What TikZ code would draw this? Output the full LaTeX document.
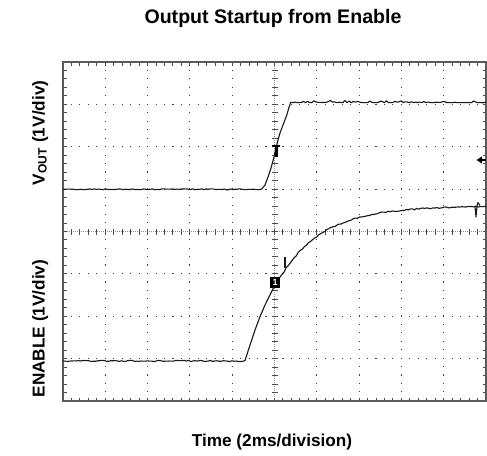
\documentclass[tikz,border=0pt]{standalone}
\usepackage{fontspec}
\setmainfont{Liberation Sans}
\begin{document}
\begin{tikzpicture}[x=0.5pt,y=-0.5pt,
  frame/.style={draw=black!65, line width=0.65pt},
  tickmark/.style={draw=black!70, line width=0.5pt},
  gridline/.style={draw=black!75, line width=0.55pt, dash pattern=on 0.55pt off 3.68pt, dash phase=0.275pt},
  axisline/.style={draw=black!45, line width=0.5pt, dash pattern=on 0.5pt off 0.5pt},
  trace/.style={draw=black!90, line width=0.55pt, line join=round},
  lbl/.style={font=\bfseries\fontsize{8.6}{10}\selectfont, inner sep=0pt}]
\useasboundingbox (0,0) rectangle (487,455);
\fill[white] (0,0) rectangle (487,455);

% dotted graticule (10 x 8 divisions)
\foreach \k in {1,2,3,4,6,7,8,9}
  \draw[gridline] ({63+42.3*\k},62) -- ({63+42.3*\k},401);
\foreach \j in {1,2,3,5,6,7}
  \draw[gridline] (63,{62+42.375*\j}) -- (486,{62+42.375*\j});

% centre axes with minor ticks
\draw[axisline] (274.5,62) -- (274.5,401);
\draw[axisline] (63,231.75) -- (486,231.75);
\foreach \i in {1,...,49}
  \draw[tickmark] ({63+8.46*\i},229) -- ({63+8.46*\i},234.5);
\foreach \i in {1,...,39}
  \draw[tickmark] (271.5,{62+8.475*\i}) -- (277.5,{62+8.475*\i});

% ticks along the frame
\foreach \i in {1,...,49} {
  \draw[tickmark] ({63+8.46*\i},62) -- ++(0,3.5);
  \draw[tickmark] ({63+8.46*\i},401) -- ++(0,-3.5);
}
\foreach \i in {1,...,39} {
  \draw[tickmark] (63,{62+8.475*\i}) -- ++(3.5,0);
  \draw[tickmark] (486,{62+8.475*\i}) -- ++(-3.5,0);
}
\draw[frame] (63,62) rectangle (486,401);

\pgfmathsetseed{11}
% VOUT trace
\draw[trace] plot[domain=63:262, samples=90, variable=\t] (\t,{189.3+0.5*rand})
  -- (265,185) -- (268,177) -- (271,168) -- (273.5,159) -- (276,148) -- (278,140)
  -- (280,133) -- (283,125) -- (286.5,116) -- (288.5,109) -- (290.5,102.7)
  -- plot[domain=291:486, samples=95, variable=\t] (\t,{102.7-2.4*abs(rand)^4});

% ENABLE trace
\draw[trace] plot[domain=63:245, samples=85, variable=\t] (\t,{361+0.6*rand})
  -- (250,345) -- (255,330) -- (260,316.7) -- (265,305) -- (268.3,298.3)
  -- (273.3,288.3) -- (277,281) -- (283,273)
  -- plot[domain=284:486, samples=100, variable=\t] (\t,{206+67*exp(-(\t-283)/43)+0.7*rand});
\draw[trace] (285,267.5) -- (285,256.5);
\draw[trace] (475,207) -- (476,217) -- (477,206) -- (478,202.5) -- (480,205.5);

% trigger marker on VOUT
\fill[black] (272,145) rectangle (279.5,147);
\fill[black] (274.5,145) rectangle (277.5,157);

% channel marker
\node (chmark) [fill=black, inner sep=0pt, minimum width=5pt, minimum height=5.5pt,
  text=white, font=\bfseries\fontsize{4.5}{5}\selectfont] at (275,282.5) {1};

% trigger level arrow
\fill[black] (476.5,160) -- (482,156.5) -- (482,163.5) -- cycle;
\draw[black, line width=0.6pt] (481,160) -- (486,160);

% labels
\node[lbl, font=\bfseries\fontsize{9.8}{12}\selectfont, anchor=base] (title) at (273,23.5) {Output Startup from Enable};
\node[lbl, anchor=base] (xlabel) at (272,446) {Time (2ms/division)};
\node[lbl, rotate=90, anchor=base] (vlabel) at (44.5,133) {V\textsubscript{OUT} (1V/div)};
\node[lbl, rotate=90, anchor=base] (elabel) at (44.5,328.5) {ENABLE (1V/div)};
\end{tikzpicture}
\end{document}
